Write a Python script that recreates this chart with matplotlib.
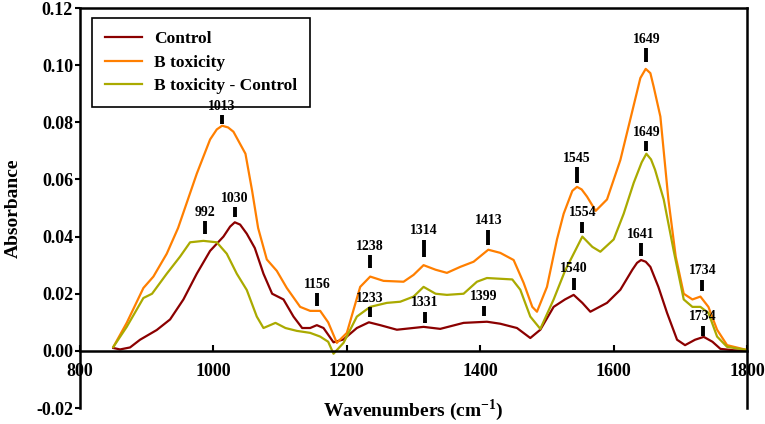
import matplotlib
matplotlib.use('Agg')
import matplotlib.pyplot as plt

# values
ctrl_x = [850, 860, 875, 890, 915, 935, 955, 975, 995, 1015, 1025, 1032, 1040, 1050, 1062, 1075,
          1088, 1105, 1120, 1133, 1145, 1155, 1165, 1180, 1195, 1215, 1233, 1250, 1275, 1315,
          1340, 1375, 1410, 1430, 1455, 1475, 1490, 1510, 1527, 1540, 1553, 1565, 1590, 1610,
          1628, 1635, 1641, 1648, 1655, 1667, 1680, 1695, 1707, 1722, 1735, 1748, 1760, 1780,
          1800]
ctrl_y = [0.001, 0.0005, 0.0012, 0.0039, 0.0073, 0.011, 0.018, 0.027, 0.035, 0.040, 0.0435,
          0.045, 0.0442, 0.041, 0.036, 0.027, 0.020, 0.018, 0.012, 0.008, 0.008, 0.009, 0.008,
          0.003, 0.004, 0.008, 0.010, 0.009, 0.0074, 0.0084, 0.0077, 0.0098, 0.0102, 0.0095,
          0.008, 0.0045, 0.0074, 0.0154, 0.018, 0.0196, 0.0168, 0.0137, 0.0168, 0.0214, 0.0284,
          0.0308, 0.0318, 0.0312, 0.0294, 0.0224, 0.0133, 0.0039, 0.002, 0.0039, 0.0049, 0.0032,
          0.0007, 0.0002, 0.0]

btox_x = [850, 870, 895, 910, 930, 947, 975, 995, 1005, 1013, 1022, 1030, 1048, 1058, 1067,
          1080, 1095, 1110, 1130, 1145, 1160, 1172, 1185, 1200, 1220, 1235, 1255, 1285, 1300,
          1315, 1333, 1350, 1370, 1390, 1412, 1430, 1450, 1465, 1478, 1485, 1500, 1515, 1525,
          1538, 1545, 1552, 1560, 1573, 1590, 1610, 1628, 1640, 1648, 1655, 1660, 1670, 1682,
          1693, 1705, 1718, 1730, 1742, 1755, 1770, 1800]
btox_y = [0.0014, 0.0098, 0.022, 0.026, 0.034, 0.043, 0.062, 0.074, 0.0775, 0.0788, 0.0782,
          0.0767, 0.069, 0.056, 0.043, 0.032, 0.028, 0.022, 0.0154, 0.014, 0.014, 0.010, 0.0028,
          0.0063, 0.0224, 0.026, 0.0245, 0.0242, 0.0266, 0.030, 0.0284, 0.0273, 0.0294, 0.0312,
          0.0354, 0.0343, 0.0318, 0.0238, 0.0154, 0.0137, 0.0224, 0.039, 0.048, 0.056, 0.0574,
          0.0565, 0.054, 0.049, 0.053, 0.0668, 0.084, 0.0955, 0.0987, 0.0972, 0.0924, 0.082,
          0.053, 0.033, 0.020, 0.018, 0.019, 0.0154, 0.0074, 0.002, 0.0003]

diff_x = [850, 870, 895, 908, 930, 950, 965, 985, 1005, 1020, 1035, 1050, 1065, 1075, 1093,
          1108, 1125, 1145, 1160, 1172, 1180, 1195, 1215, 1235, 1260, 1280, 1300, 1315, 1333,
          1350, 1375, 1395, 1410, 1448, 1460, 1475, 1490, 1510, 1527, 1540, 1553, 1568, 1580,
          1600, 1615, 1630, 1642, 1649, 1656, 1662, 1675, 1690, 1705, 1718, 1730, 1742, 1755,
          1770, 1800]
diff_y = [0.0014, 0.0084, 0.0185, 0.020, 0.027, 0.033, 0.038, 0.0385, 0.038, 0.034, 0.027,
          0.0213, 0.012, 0.008, 0.0098, 0.008, 0.007, 0.0063, 0.005, 0.0032, -0.001, 0.0028,
          0.012, 0.0154, 0.0168, 0.0172, 0.019, 0.0224, 0.020, 0.0196, 0.020, 0.0242, 0.0255,
          0.025, 0.0214, 0.012, 0.0077, 0.018, 0.028, 0.034, 0.040, 0.0364, 0.0347, 0.039,
          0.048, 0.0588, 0.066, 0.069, 0.067, 0.0634, 0.053, 0.035, 0.018, 0.0154, 0.0154,
          0.0133, 0.005, 0.0014, 0.0003]

# peak labels: text, x position, bottom and top of the marker
peak_text = ['1013', '992', '1030', '1156', '1238', '1233', '1314', '1331', '1413', '1399',
             '1545', '1554', '1540', '1641', '1649', '1649', '1734', '1734']
peak_x = [1013, 988, 1032, 1155, 1235, 1235, 1316, 1317, 1412, 1405,
          1545, 1553, 1540, 1641, 1649, 1649, 1733, 1734]
peak_lo = [0.0794, 0.041, 0.0469, 0.0158, 0.029, 0.012, 0.033, 0.0098, 0.0371, 0.0123,
           0.0588, 0.0413, 0.0214, 0.0333, 0.101, 0.070, 0.021, 0.0053]
peak_hi = [0.0825, 0.0455, 0.0504, 0.0203, 0.0336, 0.0154, 0.0389, 0.0137, 0.0424, 0.0158,
           0.0644, 0.0452, 0.0256, 0.0378, 0.106, 0.0735, 0.0249, 0.0088]

plt.rcParams['font.family'] = ['Liberation Serif', 'DejaVu Serif']
plt.rcParams['font.weight'] = 'bold'
plt.rcParams['mathtext.fontset'] = 'custom'
plt.rcParams['mathtext.rm'] = 'Liberation Serif:bold'
plt.rcParams['mathtext.bf'] = 'Liberation Serif:bold'

fig = plt.figure(figsize=(7.65, 4.24), dpi=100)
ax = fig.add_axes([0.1046, 0.0377, 0.872, 0.9434])

ax.plot(ctrl_x, ctrl_y, color='#8b0000', lw=1.6, label='Control', solid_joinstyle='round')
ax.plot(btox_x, btox_y, color='#ff7f00', lw=1.6, label='B toxicity', solid_joinstyle='round')
ax.plot(diff_x, diff_y, color='#aaaa00', lw=1.6, label='B toxicity - Control',
        solid_joinstyle='round')

for t, x, lo, hi in zip(peak_text, peak_x, peak_lo, peak_hi):
    ax.plot([x, x], [lo, hi], color='black', lw=2.8, solid_capstyle='butt', zorder=6)
    ax.text(x, hi + 0.0008, t, ha='center', va='bottom', fontsize=10, fontweight='bold',
            zorder=6)

ax.set_xlim(800, 1800)
ax.set_ylim(-0.02, 0.12)
ax.set_xticks([800, 1000, 1200, 1400, 1600, 1800])
ax.set_yticks([-0.02, 0.0, 0.02, 0.04, 0.06, 0.08, 0.10, 0.12])
ax.set_yticklabels(['-0.02', '0.00', '0.02', '0.04', '0.06', '0.08', '0.10', '0.12'])

ax.spines['bottom'].set_position(('data', 0))
for s in ['left', 'right', 'top', 'bottom']:
    ax.spines[s].set_linewidth(1.8)
ax.tick_params(axis='x', direction='in', length=4, width=1.5, labelsize=13, pad=9)
ax.tick_params(axis='y', direction='out', length=3.5, width=1.5, labelsize=13, pad=1.5)
for lab in ax.get_xticklabels() + ax.get_yticklabels():
    lab.set_fontweight('bold')

ax.set_ylabel('Absorbance', fontsize=14, fontweight='bold', labelpad=10)
ax.text(0.5, -0.006, r'Wavenumbers (cm$^{-1}$)', transform=ax.transAxes,
        ha='center', va='center', fontsize=14, fontweight='bold')

leg = ax.legend(loc='upper left', bbox_to_anchor=(0.018, 0.975), borderaxespad=0,
                fontsize=12.5, handlelength=2.1, handletextpad=0.7, fancybox=False,
                framealpha=1, edgecolor='black', borderpad=0.75, labelspacing=0.42)
leg.get_frame().set_linewidth(1.2)
leg.set_zorder(3)
for t in leg.get_texts():
    t.set_fontweight('bold')

fig.savefig('out.png', dpi=100)
